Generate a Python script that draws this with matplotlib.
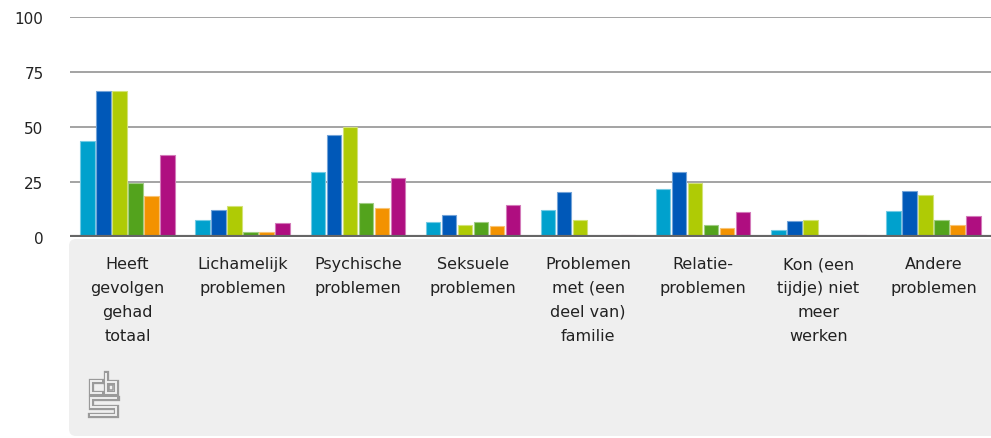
import numpy as np
import matplotlib.pyplot as plt
from matplotlib.patches import FancyBboxPatch
from matplotlib.colors import to_rgb

# categorieen (x-as)
categorieen = ['Heeft\ngevolgen\ngehad\ntotaal', 'Lichamelijk\nproblemen', 'Psychische\nproblemen',
               'Seksuele\nproblemen', 'Problemen\nmet (een\ndeel van)\nfamilie', 'Relatie-\nproblemen',
               'Kon (een\ntijdje) niet\nmeer\nwerken', 'Andere\nproblemen']

# zes reeksen, een per kleur
reeks1 = [44, 8, 29.5, 6.8, 12.5, 21.8, 3.5, 12]
reeks2 = [66.5, 12.5, 46.5, 10.3, 20.5, 29.5, 7.4, 21.2]
reeks3 = [66.5, 14.4, 50.2, 5.6, 7.9, 24.5, 7.9, 19.1]
reeks4 = [24.5, 2.2, 15.6, 6.8, 0, 5.6, 0, 7.9]
reeks5 = [18.9, 2.2, 13.3, 5, 0, 4.4, 0, 5.6]
reeks6 = [37.2, 6.6, 26.8, 14.8, 1.2, 11.4, 1.2, 9.5]

kleuren = ['#00a1cd', '#0058b8', '#afcb05', '#53a31d', '#f39200', '#af0e80']
yticks = [0, 25, 50, 75, 100]

reeksen = [reeks1, reeks2, reeks3, reeks4, reeks5, reeks6]

fig = plt.figure(figsize=(9.91, 4.39), dpi=100)

# grijs vlak onder de grafiek
vlak = FancyBboxPatch((0.69, 0.02), 9.5, 1.97, boxstyle='round,pad=0,rounding_size=0.07',
                      transform=fig.dpi_scale_trans, facecolor='#efefef', edgecolor='none', zorder=-1)
fig.patches.append(vlak)

ax = fig.add_axes([70/991, 1-238.3/439, 921/991, 220/439])
ax.set_facecolor('none')

x = np.arange(len(categorieen))
slot = 0.139
breedte = 0.125
for i, (r, k) in enumerate(zip(reeksen, kleuren)):
    rand = tuple(0.55*np.array(to_rgb(k)) + 0.45)
    ax.bar(x + (i-2.5)*slot, r, width=breedte, color=k, edgecolor=rand, linewidth=0.8, zorder=3)

ax.set_xlim(-0.5, len(categorieen)-0.5)
ax.set_ylim(0, 100)
ax.set_yticks(yticks)
ax.set_yticklabels([str(v) for v in yticks], fontsize=11, color='#222222')
ax.set_xticks(x)
ax.set_xticklabels(categorieen, fontsize=11.5, color='#222222', linespacing=1.74)
ax.tick_params(axis='both', length=0)
ax.tick_params(axis='y', pad=19)
ax.tick_params(axis='x', pad=13.5)
for s in ['top', 'right', 'left', 'bottom']:
    ax.spines[s].set_visible(False)
for v in yticks[1:]:
    ax.axhline(v, color='#8a8a8a', linewidth=1.1, zorder=1)
ax.axhline(0, color='#666666', linewidth=3, zorder=4)

# cbs logo (eenvoudige benadering)
logo = fig.add_axes([0, 0, 1, 1], zorder=5)
logo.set_xlim(0, 991)
logo.set_ylim(439, 0)
logo.axis('off')
lijnen = [
    [(102, 382), (91, 382), (91, 394.5), (102, 394.5)],
    [(105.5, 373.5), (105.5, 394.5), (116, 394.5), (116, 383), (105.5, 383)],
    [(116.5, 399.5), (91, 399.5), (91, 408), (116, 408), (116, 416.5), (90, 416.5)],
]
for l in lijnen:
    lx, ly = zip(*l)
    logo.plot(lx, ly, color='#9a9a9a', linewidth=3.8, solid_joinstyle='miter', solid_capstyle='projecting')
    logo.plot(lx, ly, color='#efefef', linewidth=1.4, solid_joinstyle='miter', solid_capstyle='butt')
logo.plot([109, 113, 113, 109, 109], [386, 386, 391, 391, 386], color='#9a9a9a', linewidth=1.1)

fig.savefig('out.png', dpi=100)
